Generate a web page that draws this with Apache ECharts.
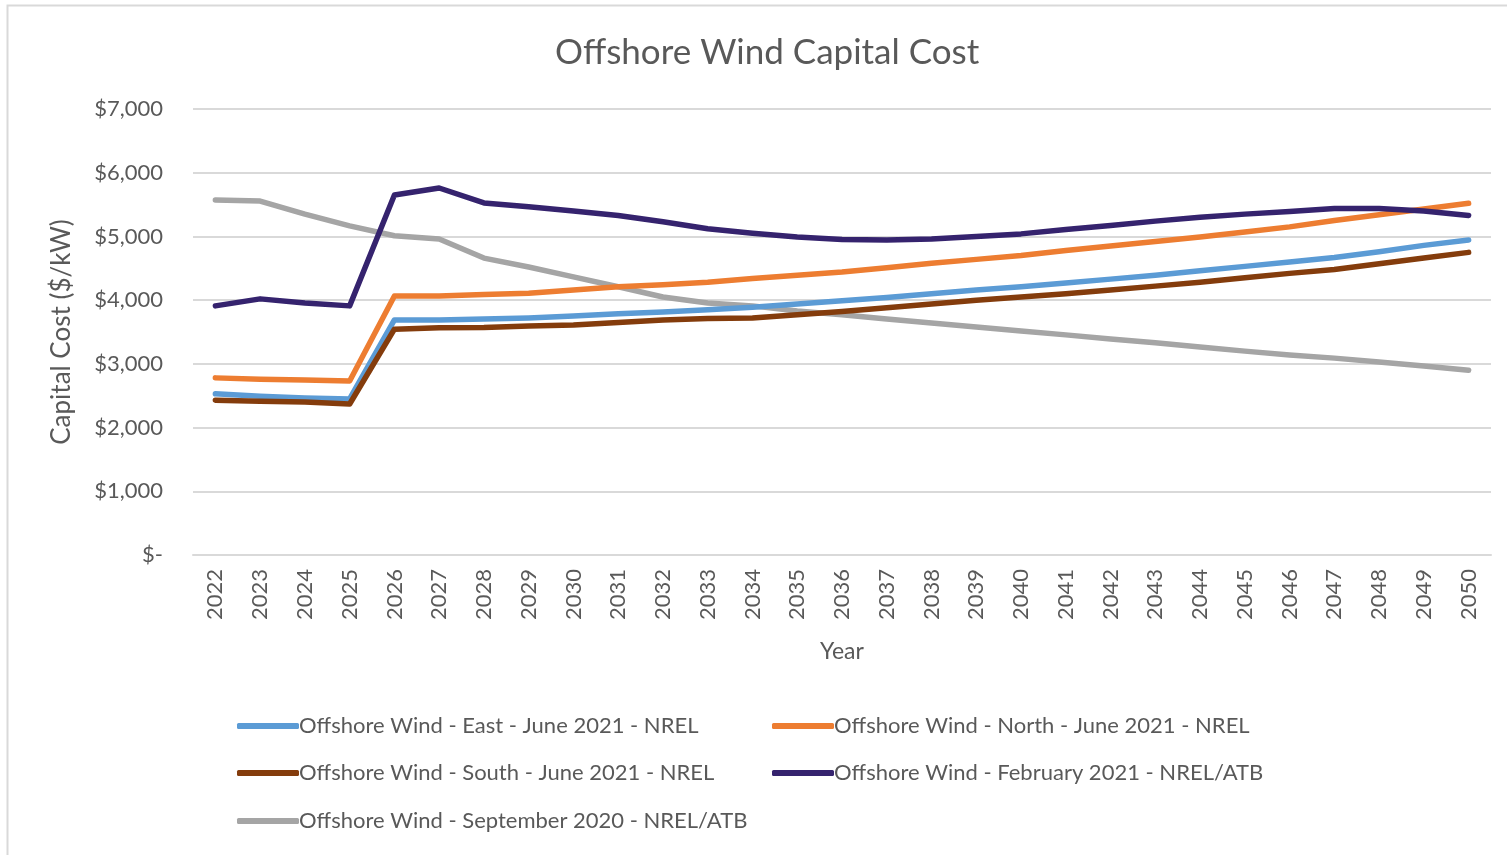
<!DOCTYPE html>
<html>
<head>
<meta charset="utf-8">
<script src="https://cdn.jsdelivr.net/npm/echarts@6/dist/echarts.min.js"></script>
<style>
html,body{margin:0;padding:0;background:#fff;}
#chart{width:1507px;height:855px;}
</style>
</head>
<body>
<div id="chart"></div>
<script>
const years = ['2022','2023','2024','2025','2026','2027','2028','2029','2030','2031','2032','2033','2034','2035','2036','2037','2038','2039','2040','2041','2042','2043','2044','2045','2046','2047','2048','2049','2050'];
const eastJune2021 = [2530,2490,2465,2450,3690,3690,3705,3720,3750,3785,3815,3850,3890,3940,3990,4040,4100,4160,4210,4270,4330,4390,4460,4530,4600,4670,4760,4860,4945];
const northJune2021 = [2780,2760,2745,2730,4065,4065,4090,4110,4160,4210,4240,4280,4340,4390,4440,4510,4580,4640,4700,4780,4850,4920,4990,5070,5150,5250,5340,5430,5520];
const southJune2021 = [2430,2415,2400,2370,3545,3565,3570,3595,3610,3650,3690,3710,3720,3770,3820,3880,3940,4000,4050,4100,4160,4220,4280,4350,4420,4480,4570,4660,4750];
const feb2021 = [3910,4020,3955,3910,5650,5760,5525,5465,5400,5330,5230,5120,5050,4990,4950,4945,4960,5000,5040,5110,5170,5240,5300,5350,5390,5440,5440,5400,5330];
const sep2020 = [5570,5555,5350,5165,5010,4960,4660,4520,4365,4210,4050,3955,3910,3830,3770,3705,3640,3580,3515,3455,3390,3330,3265,3200,3140,3090,3030,2965,2900];
const seriesNames = [
  'Offshore Wind - East - June 2021 - NREL',
  'Offshore Wind - North - June 2021 - NREL',
  'Offshore Wind - South - June 2021 - NREL',
  'Offshore Wind - February 2021 - NREL/ATB',
  'Offshore Wind - September 2020 - NREL/ATB'
];
const seriesData = [eastJune2021, northJune2021, southJune2021, feb2021, sep2020];
const colors = ['#5B9BD5','#ED7D31','#843C0C','#35236E','#A5A5A5'];

const FONT = 'Lato, "Open Sans", sans-serif';
const TXT = '#595959';

const legendPos = [
  {left:237, top:715},
  {left:772, top:715},
  {left:237, top:762},
  {left:772, top:762},
  {left:237, top:810}
];

const chart = echarts.init(document.getElementById('chart'));
chart.setOption({
  backgroundColor:'#fff',
  animation:false,
  title:{
    text:'Offshore Wind Capital Cost',
    left:550, top:30,
    textStyle:{fontFamily:FONT, fontSize:35, fontWeight:'normal', color:TXT}
  },
  graphic:[{
    type:'rect', shape:{x:7.5,y:5.5,width:1520,height:870},
    style:{fill:'none', stroke:'#d9d9d9', lineWidth:2}, silent:true, z:-1
  }],
  legend: legendPos.map((p,i)=>({
    left:p.left, top:p.top, padding:0, data:[seriesNames[i]],
    icon:'roundRect', itemWidth:62, itemHeight:6, itemGap:0,
    textStyle:{fontFamily:FONT, fontSize:22, color:TXT, padding:[0,0,0,-5]}
  })),
  grid:{left:193, right:16, top:109, bottom:300},
  xAxis:{
    type:'category', data:years, boundaryGap:true,
    name:'Year', nameLocation:'middle', nameGap:85,
    nameTextStyle:{fontFamily:FONT, fontSize:23, color:TXT},
    axisLine:{lineStyle:{color:'#d9d9d9', width:2}},
    axisTick:{show:false},
    axisLabel:{rotate:90, interval:0, fontFamily:FONT, fontSize:22, color:TXT, margin:14}
  },
  yAxis:{
    type:'value', min:0, max:7000, interval:1000,
    name:'Capital Cost ($/kW)', nameLocation:'middle', nameGap:118,
    nameTextStyle:{fontFamily:FONT, fontSize:26, color:TXT},
    axisLine:{show:false}, axisTick:{show:false},
    splitLine:{lineStyle:{color:'#d9d9d9', width:2}},
    axisLabel:{
      fontFamily:FONT, fontSize:22, color:TXT, margin:30,
      formatter:v=> v===0 ? '$-' : '$' + v.toLocaleString('en-US')
    }
  },
  series: seriesData.map((d,i)=>({
    name:seriesNames[i], type:'line', data:d, showSymbol:false, symbol:'none',
    lineStyle:{color:colors[i], width:5.5, cap:'round', join:'round'},
    itemStyle:{color:colors[i]},
    z: i===4 ? 1 : 2+i
  }))
});
</script>
</body>
</html>
